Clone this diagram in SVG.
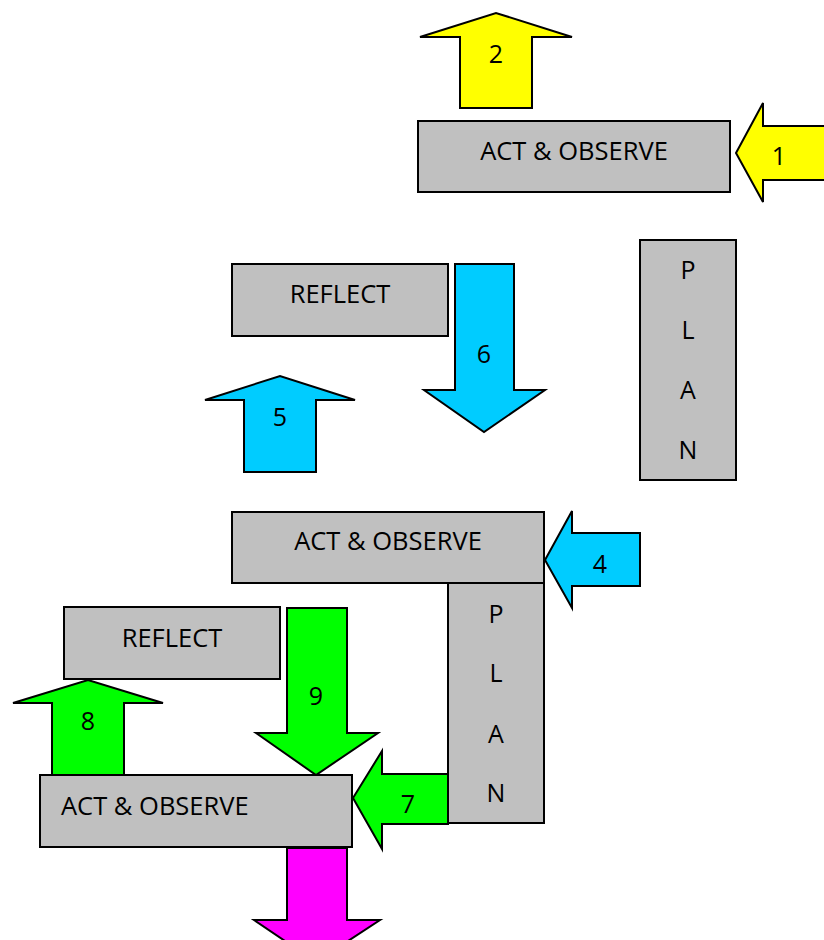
<svg xmlns="http://www.w3.org/2000/svg" width="824" height="940" viewBox="0 0 824 940">
<style>
.box{fill:#C0C0C0;stroke:#000;stroke-width:2}
.arr{stroke:#000;stroke-width:2;stroke-linejoin:miter}
.y{fill:#FFFF00}.c{fill:#00CCFF}.g{fill:#00FF00}.m{fill:#FF00FF}
text{font-family:"Open Sans","Noto Sans",sans-serif;fill:#000}
.lbl{font-size:25.5px}
.num{font-size:25px;text-anchor:middle}
.mid{text-anchor:middle}
</style>
<rect width="824" height="940" fill="#fff"/>
<g id="connectors">
<polygon class="arr y" points="460,108 532,108 532,37 572,37 496,13 420,37 460,37"/>
<text class="num" x="496" y="63">2</text>
<polygon class="arr y" points="736,153 763,103 763,126 830,126 830,180 763,180 763,202"/>
<text class="num" x="779" y="165">1</text>
<polygon class="arr c" points="455,264 514,264 514,390 545,390 484,432 424,390 455,390"/>
<text class="num" x="484" y="363">6</text>
<polygon class="arr c" points="244,472 316,472 316,400 355,400 280,376 205,400 244,400"/>
<text class="num" x="280" y="426">5</text>
<polygon class="arr c" points="545,560 572,511 572,533 640,533 640,586 572,586 572,608"/>
<text class="num" x="600" y="573">4</text>
<polygon class="arr g" points="287,608 347,608 347,733 378,733 316,775 256,733 287,733"/>
<text class="num" x="316" y="705">9</text>
<polygon class="arr g" points="52,775 124,775 124,703 163,703 88,680 13,703 52,703"/>
<text class="num" x="88" y="730">8</text>
<polygon class="arr g" points="353,798 382,751 382,774 448,774 448,824 382,824 382,849"/>
<text class="num" x="408" y="813">7</text>
<polygon class="arr m" points="287,848 347,848 347,920 380,920 316,962 254,920 287,920"/>
</g>
<g id="act1"><rect class="box" x="418" y="121" width="312" height="71"/><text class="lbl mid" x="574" y="160">ACT &amp; OBSERVE</text></g>
<g id="reflect1"><rect class="box" x="232" y="264" width="216" height="72"/><text class="lbl mid" x="340" y="303">REFLECT</text></g>
<g id="plan1"><rect class="box" x="640" y="240" width="96" height="240"/>
<text class="num" x="688" y="279">P</text><text class="num" x="688" y="339">L</text><text class="num" x="688" y="399">A</text><text class="num" x="688" y="459">N</text></g>
<g id="act2"><rect class="box" x="232" y="512" width="312" height="71"/><text class="lbl mid" x="388" y="550">ACT &amp; OBSERVE</text></g>
<g id="plan2"><rect class="box" x="448" y="583" width="96" height="240"/>
<text class="num" x="496" y="623">P</text><text class="num" x="496" y="682">L</text><text class="num" x="496" y="743">A</text><text class="num" x="496" y="802">N</text></g>
<g id="reflect2"><rect class="box" x="64" y="607" width="216" height="72"/><text class="lbl mid" x="172" y="647">REFLECT</text></g>
<g id="act3"><rect class="box" x="40" y="775" width="312" height="72"/><text class="lbl" x="61" y="815">ACT &amp; OBSERVE</text></g>
</svg>
